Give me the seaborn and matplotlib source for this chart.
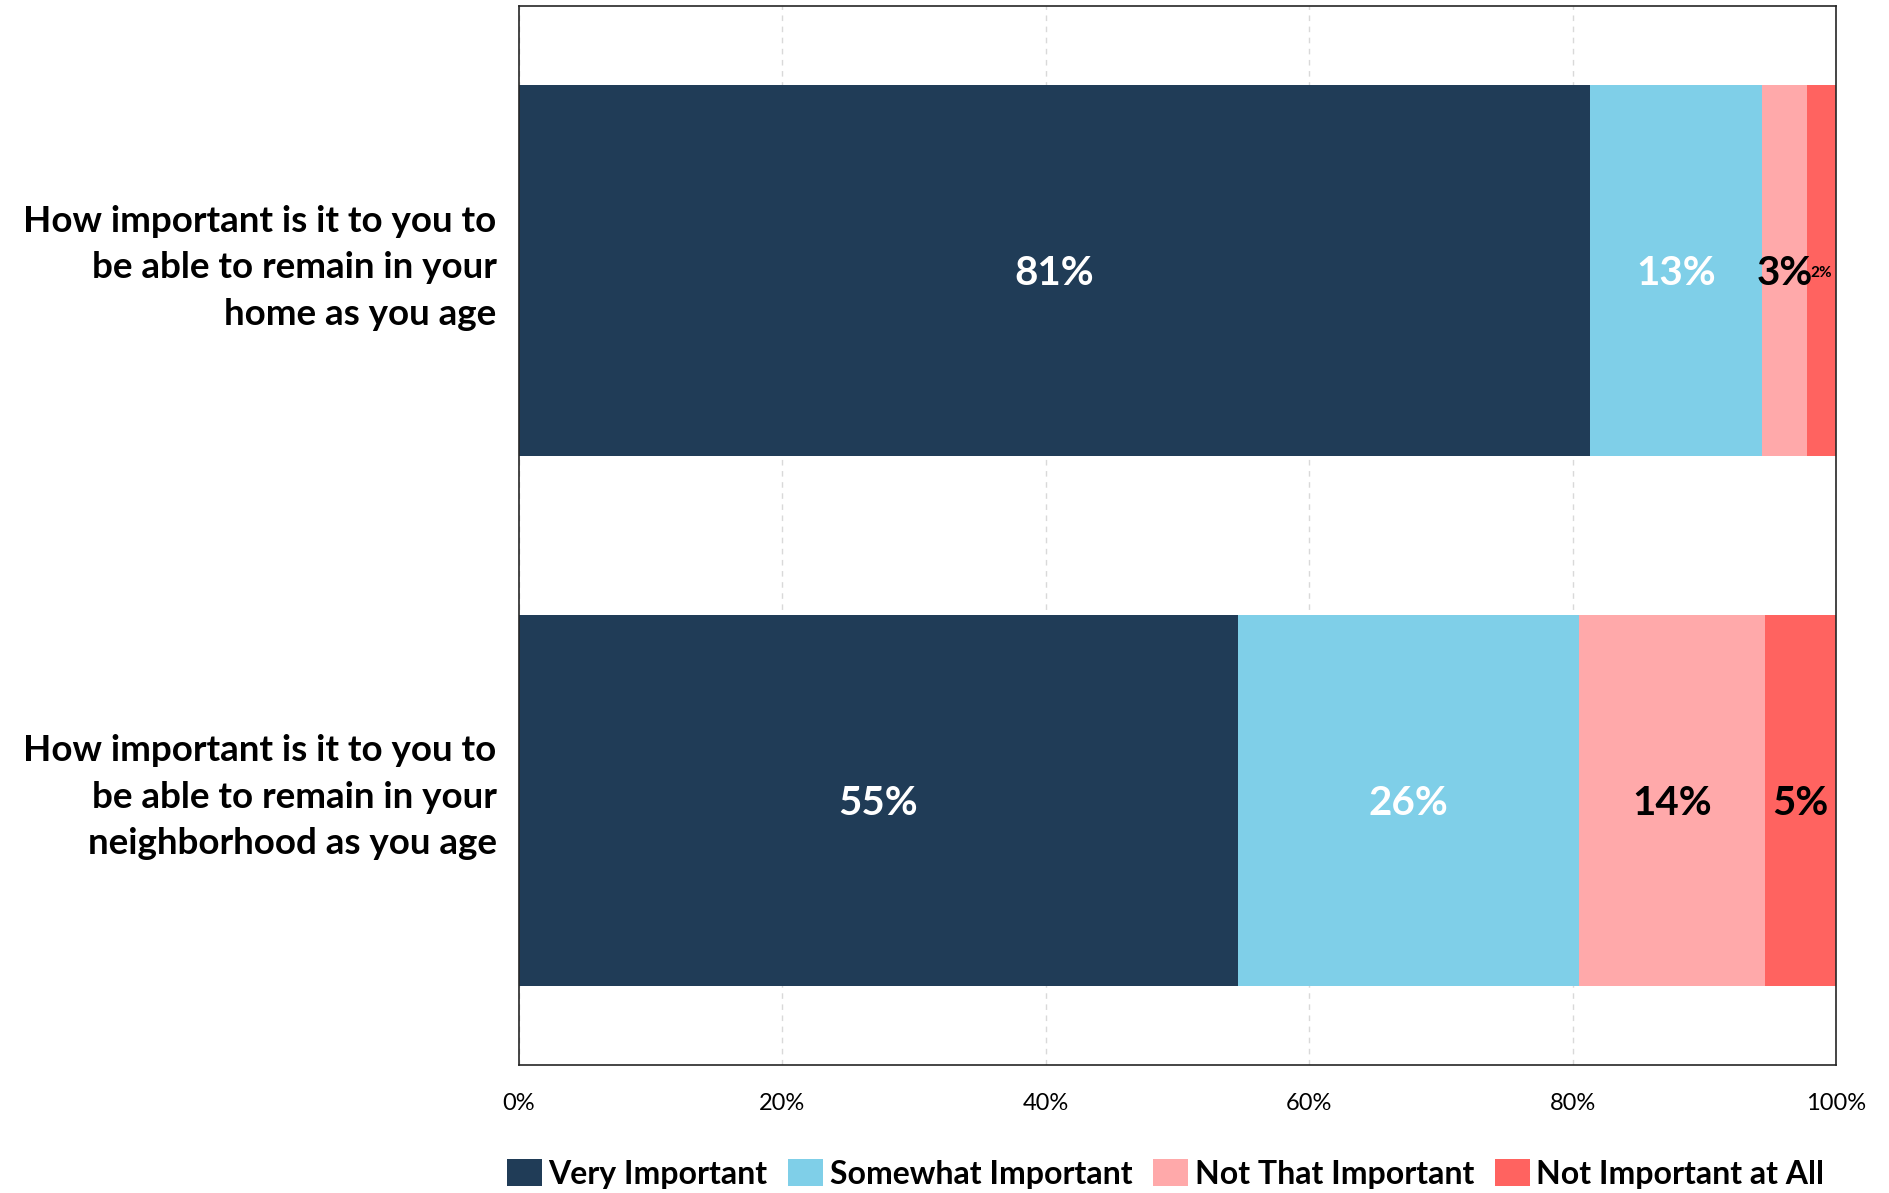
import numpy as np
import pandas as pd
import seaborn as sns
import matplotlib.pyplot as plt
import matplotlib.transforms as mtransforms
from matplotlib.patches import Patch

# Data
questions = [
    "How important is it to you to\nbe able to remain in your\nhome as you age",
    "How important is it to you to\nbe able to remain in your\nneighborhood as you age",
]
categories = ["Very Important", "Somewhat Important", "Not That Important", "Not Important at All"]
very_important = [81.3, 54.6]
somewhat_important = [13.1, 25.9]
not_that_important = [3.4, 14.1]
not_important_at_all = [2.2, 5.4]
value_labels = [["81%", "13%", "3%", "2%"], ["55%", "26%", "14%", "5%"]]

colors = ["#203C57", "#7FCFE8", "#FFA9AA", "#FF6360"]
text_colors = ["white", "white", "black", "black"]

sns.set_theme(style="white")
plt.rcParams["font.family"] = ["Lato", "DejaVu Sans"]
plt.rcParams["text.color"] = "black"
plt.rcParams["xtick.color"] = "black"
plt.rcParams["ytick.color"] = "black"

df = pd.DataFrame({
    "question": questions,
    categories[0]: very_important,
    categories[1]: somewhat_important,
    categories[2]: not_that_important,
    categories[3]: not_important_at_all,
})
cum = df[categories].cumsum(axis=1)

fig = plt.figure(figsize=(18.89, 11.93), dpi=100)
ax = fig.add_axes([0.2747, 0.107, 0.6973, 0.888])

# gridlines behind bars
ax.set_axisbelow(True)
ax.grid(axis="x", linestyle=(0, (4, 4)), color="#d9d9d9", linewidth=1)

# stacked bars: draw cumulative totals from the largest down
for i in range(len(categories) - 1, -1, -1):
    sns.barplot(data=cum.assign(question=df["question"]), x=categories[i], y="question",
                orient="h", color=colors[i], width=0.7, saturation=1, ax=ax, linewidth=0)

# segment labels
for r in range(len(questions)):
    left = 0
    for i, cat in enumerate(categories):
        w = df.loc[r, cat]
        lab = value_labels[r][i]
        fs = 11 if lab == "2%" and r == 0 else 29
        ax.text(left + w / 2, r + 0.005, lab, ha="center", va="center", color=text_colors[i],
                fontsize=fs, fontweight="bold")
        left += w

ax.set_xlim(0, 100)
ax.set_ylim(1.5, -0.5)
ax.set_xticks([0, 20, 40, 60, 80, 100])
ax.set_xticklabels([f"{t}%" for t in [0, 20, 40, 60, 80, 100]], fontsize=17, color="black")
ax.tick_params(axis="x", length=0, pad=20)
ax.tick_params(axis="y", length=0, pad=16)
shift_up = mtransforms.ScaledTranslation(0, 0.13, fig.dpi_scale_trans)
for t in ax.get_yticklabels():
    t.set_fontsize(26.5)
    t.set_fontweight("bold")
    t.set_color("black")
    t.set_ha("right")
    t.set_multialignment("right")
    t.set_linespacing(1.5)
    t.set_transform(t.get_transform() + shift_up)
ax.set_xlabel("")
ax.set_ylabel("")
for s in ax.spines.values():
    s.set_visible(True)
    s.set_color("#262626")
    s.set_linewidth(1.2)

handles = [Patch(facecolor=c, edgecolor="none") for c in colors]
leg = fig.legend(handles, categories, loc="center", bbox_to_anchor=(0.617, 0.016), ncol=4,
                 frameon=False, prop={"size": 23, "weight": "bold"}, handlelength=1.1,
                 handleheight=0.9, handletextpad=0.2, columnspacing=0.65)
for txt in leg.get_texts():
    txt.set_color("black")

fig.savefig("out.png", dpi=100)
